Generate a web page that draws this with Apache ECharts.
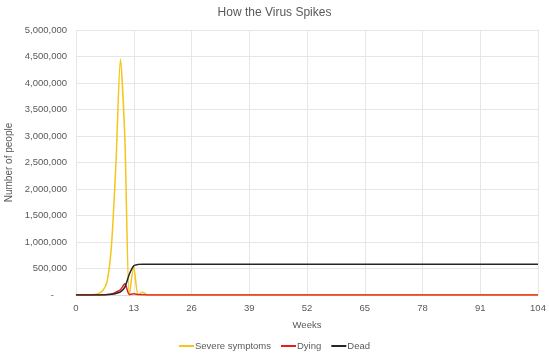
<!DOCTYPE html>
<html>
<head>
<meta charset="utf-8">
<script src="https://cdn.jsdelivr.net/npm/echarts@6/dist/echarts.min.js"></script>
<style>html,body{margin:0;padding:0;background:#fff}#c{width:549px;height:356px}</style>
</head>
<body>
<div id="c"></div>
<script>
var title = 'How the Virus Spikes';
var xTicks = [0, 13, 26, 39, 52, 65, 78, 91, 104];
var seriesNames = ['Severe symptoms', 'Dying', 'Dead'];
// weekly values, week 0..104 (index = week)
var severe = [
  0,0,0,2000,8000,25000,80000,250000,950000,2500000,4450000,2950000,0,
  530000,0,50000,5000,0,0,0,0,0,0,0,0,0,
  0,0,0,0,0,0,0,0,0,0,0,0,0,
  0,0,0,0,0,0,0,0,0,0,0,0,0,
  0,0,0,0,0,0,0,0,0,0,0,0,0,
  0,0,0,0,0,0,0,0,0,0,0,0,0,
  0,0,0,0,0,0,0,0,0,0,0,0,0,
  0,0,0,0,0,0,0,0,0,0,0,0,0,
  0
];
var dying = [
  0,0,0,0,0,1000,3000,8000,20000,55000,100000,210000,10000,
  25000,8000,3000,0,0,0,0,0,0,0,0,0,0,
  0,0,0,0,0,0,0,0,0,0,0,0,0,
  0,0,0,0,0,0,0,0,0,0,0,0,0,
  0,0,0,0,0,0,0,0,0,0,0,0,0,
  0,0,0,0,0,0,0,0,0,0,0,0,0,
  0,0,0,0,0,0,0,0,0,0,0,0,0,
  0,0,0,0,0,0,0,0,0,0,0,0,0,
  0
];
var dead = [
  0,0,0,0,0,0,1000,4000,12000,30000,60000,150000,390000,
  550000,578000,582000,582000,582000,582000,582000,582000,582000,582000,582000,582000,582000,
  582000,582000,582000,582000,582000,582000,582000,582000,582000,582000,582000,582000,582000,
  582000,582000,582000,582000,582000,582000,582000,582000,582000,582000,582000,582000,582000,
  582000,582000,582000,582000,582000,582000,582000,582000,582000,582000,582000,582000,582000,
  582000,582000,582000,582000,582000,582000,582000,582000,582000,582000,582000,582000,582000,
  582000,582000,582000,582000,582000,582000,582000,582000,582000,582000,582000,582000,582000,
  582000,582000,582000,582000,582000,582000,582000,582000,582000,582000,582000,582000,582000,
  582000
];

function pairs(arr){ return arr.map(function(v,i){ return [i, v]; }); }
var font = 'Liberation Sans, Arial, sans-serif';
var txt = '#595959';
var chart = echarts.init(document.getElementById('c'), null, {renderer:'canvas'});
chart.setOption({
  animation: false,
  backgroundColor: '#fff',
  title: { text: title, left: 'center', top: 2,
    textStyle: { fontFamily: font, fontSize: 12, fontWeight: 'normal', color: txt } },
  grid: { left: 76, right: 11, top: 30, bottom: 61, outerBoundsMode: 'none', containLabel: false },
  legend: { bottom: 0, left: 'center', itemWidth: 15, itemHeight: 2, icon: 'rect', itemGap: 10,
    textStyle: { fontFamily: font, fontSize: 9.5, color: txt, padding: [0,0,0,-4] },
    data: seriesNames },
  xAxis: { type: 'value', min: 0, max: 104, interval: 13,
    name: 'Weeks', nameLocation: 'middle', nameGap: 25,
    nameTextStyle: { fontFamily: font, fontSize: 9.5, color: txt },
    axisLine: { show: true, lineStyle: { color: '#d9d9d9' } },
    axisTick: { show: false },
    axisLabel: { fontFamily: font, fontSize: 9.5, color: txt, margin: 8 },
    splitLine: { show: true, lineStyle: { color: '#e6e6e6', width: 1 } } },
  yAxis: { type: 'value', min: 0, max: 5000000, interval: 500000,
    name: 'Number of people', nameLocation: 'middle', nameGap: 61,
    nameTextStyle: { fontFamily: font, fontSize: 10, color: txt },
    axisLine: { show: false }, axisTick: { show: false },
    axisLabel: { fontFamily: font, fontSize: 9.5, color: txt, margin: 9,
      formatter: function(v){ return v === 0 ? '-     ' : v.toLocaleString('en-US'); } },
    splitLine: { show: true, lineStyle: { color: '#e6e6e6', width: 1 } } },
  series: [
    { name: seriesNames[0], type: 'line', data: pairs(severe), showSymbol: false, smooth: 0.25,
      lineStyle: { color: '#F5C518', width: 1.5 }, itemStyle: { color: '#F5C518' } },
    { name: seriesNames[1], type: 'line', data: pairs(dying), showSymbol: false, smooth: 0.25,
      lineStyle: { color: '#E3201B', width: 1.5 }, itemStyle: { color: '#E3201B' } },
    { name: seriesNames[2], type: 'line', data: pairs(dead), showSymbol: false, smooth: 0.25,
      lineStyle: { color: '#262626', width: 1.5 }, itemStyle: { color: '#262626' } }
  ]
});
</script>
</body>
</html>
